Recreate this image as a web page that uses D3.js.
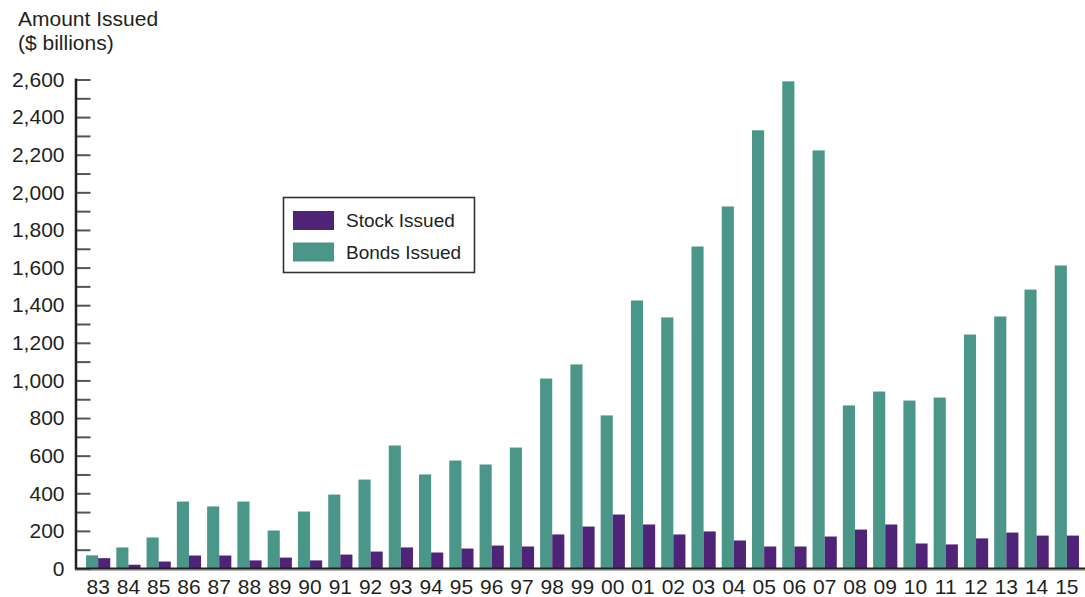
<!DOCTYPE html>
<html>
<head>
<meta charset="utf-8">
<script src="https://cdn.jsdelivr.net/npm/d3@7"></script>
<style>
  html, body { margin: 0; padding: 0; background: #ffffff; }
  svg { display: block; font-family: "Liberation Sans", Arial, Helvetica, sans-serif; }
</style>
</head>
<body>
<svg id="chart" width="1085" height="597"></svg>
<script>
const years = ["83","84","85","86","87","88","89","90","91","92","93","94","95","96","97","98","99","00","01","02","03","04","05","06","07","08","09","10","11","12","13","14","15"];
const stockIssued = [55,20,37,69,69,43,58,43,74,90,112,85,106,122,117,181,223,287,234,181,197,149,117,117,170,207,234,133,128,160,191,175,175];
const bondsIssued = [70,112,165,356,330,356,202,303,393,473,654,500,574,553,643,1010,1085,814,1425,1335,1712,1925,2330,2590,2223,867,941,893,909,1244,1340,1483,1611];
const seriesNames = ["Bonds Issued", "Stock Issued"];
const seriesColors = ["#4a9688", "#4f2478"];
const yMajorTicks = d3.range(0, 2601, 200);
const yMinorTicks = d3.range(100, 2600, 200);
const titleLines = ["Amount Issued", "($ billions)"];

const svg = d3.select("#chart");
const textColor = "#231f20";

const x = d3.scaleBand().domain(years).range([83, 1082]).paddingInner(0.2).paddingOuter(0.1);
const xs = d3.scaleBand().domain(seriesNames).range([0, x.bandwidth()]);
const y = d3.scaleLinear().domain([0, 2600]).range([568.5, 79.5]);

const colorOf = d3.scaleOrdinal().domain(seriesNames).range(seriesColors);

// bars
const rows = years.map((yr, i) => ({ yr, vals: [
  { name: "Bonds Issued", v: bondsIssued[i] },
  { name: "Stock Issued", v: stockIssued[i] }
]}));

const g = svg.append("g");
g.selectAll("g.grp").data(rows).join("g")
  .attr("class", "grp")
  .attr("transform", d => `translate(${x(d.yr)},0)`)
  .selectAll("rect").data(d => d.vals).join("rect")
  .attr("x", d => xs(d.name))
  .attr("width", xs.bandwidth())
  .attr("y", d => y(d.v))
  .attr("height", d => y(0) - y(d.v))
  .attr("fill", d => colorOf(d.name));

// y axis: major ticks with labels
const yAxis = d3.axisLeft(y).tickValues(yMajorTicks).tickFormat(d3.format(","))
  .tickSizeInner(-14).tickSizeOuter(0).tickPadding(12);
const ya = svg.append("g").attr("transform", "translate(76.5,0)").call(yAxis);
ya.select(".domain").remove();
ya.selectAll(".tick line").attr("stroke", "#555").attr("stroke-width", 2);
ya.selectAll(".tick text").attr("fill", textColor).style("font-size", "21px")
  .attr("font-family", "\"Liberation Sans\", Arial, sans-serif");

// minor ticks
const yMinor = d3.axisLeft(y).tickValues(yMinorTicks).tickFormat("").tickSizeInner(-14).tickSizeOuter(0);
const ym = svg.append("g").attr("transform", "translate(76.5,0)").call(yMinor);
ym.select(".domain").remove();
ym.selectAll(".tick line").attr("stroke", "#555").attr("stroke-width", 2);

// y axis line
svg.append("line").attr("x1", 76).attr("x2", 76).attr("y1", y(2600) - 1).attr("y2", y(0) + 1)
  .attr("stroke", "#231f20").attr("stroke-width", 2.5);

// x axis
const xAxis = d3.axisBottom(x).tickSize(0).tickPadding(11);
const xa = svg.append("g").attr("transform", `translate(0,${y(0)})`).call(xAxis);
xa.select(".domain").remove();
xa.selectAll(".tick text").attr("fill", textColor).style("font-size", "21px")
  .attr("font-family", "\"Liberation Sans\", Arial, sans-serif");

svg.append("line").attr("x1", 75).attr("x2", 1085).attr("y1", y(0) + 1.6).attr("y2", y(0) + 1.6)
  .attr("stroke", "#9a9a9a").attr("stroke-width", 1.2);
svg.append("line").attr("x1", 75).attr("x2", 1085).attr("y1", y(0)).attr("y2", y(0))
  .attr("stroke", "#231f20").attr("stroke-width", 2.2);

// title
svg.append("g").selectAll("text").data(titleLines).join("text")
  .attr("x", 18).attr("y", (d, i) => 26 + i * 23.5)
  .attr("fill", textColor).style("font-size", "21px")
  .text(d => d);

// legend
const legend = svg.append("g");
legend.append("rect").attr("x", 283.5).attr("y", 197.5).attr("width", 191).attr("height", 75)
  .attr("fill", "#fff").attr("stroke", "#333").attr("stroke-width", 1.6);
const legendItems = ["Stock Issued", "Bonds Issued"];
const li = legend.selectAll("g.li").data(legendItems).join("g").attr("class", "li")
  .attr("transform", (d, i) => `translate(293,${211 + i * 31.5})`);
li.append("rect").attr("width", 41).attr("height", 19).attr("fill", d => colorOf(d));
li.append("text").attr("x", 53).attr("y", 9.5).attr("dy", "0.35em")
  .attr("fill", textColor).style("font-size", "19px").text(d => d);
</script>
</body>
</html>
